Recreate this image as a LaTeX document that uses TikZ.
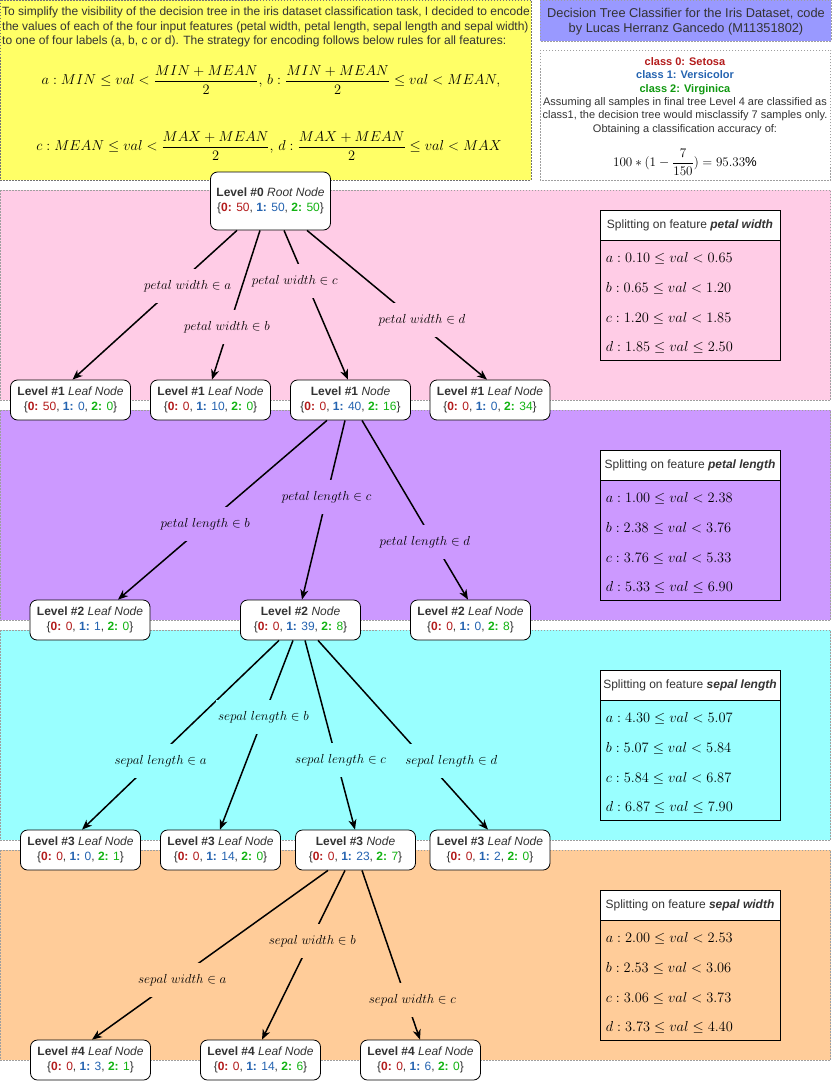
\RequirePackage{fix-cm}
\documentclass[tikz,border=0pt]{standalone}
\usepackage{amsmath}
\usepackage{fontspec}
\setmainfont{Liberation Sans}
\usetikzlibrary{arrows.meta}

\definecolor{yellowb}{HTML}{FFFF66}
\definecolor{pinkb}{HTML}{FFCCE6}
\definecolor{purpleb}{HTML}{CC99FF}
\definecolor{cyanb}{HTML}{99FFFF}
\definecolor{orangeb}{HTML}{FFCC99}
\definecolor{titleb}{HTML}{9999FF}
\definecolor{txt}{HTML}{333333}
\definecolor{czero}{HTML}{B31B1B}
\definecolor{cone}{HTML}{2463B0}
\definecolor{ctwo}{HTML}{12B312}

\newcommand{\dist}[3]{\{\textcolor{czero}{\textbf{0:} #1}, \textcolor{cone}{\textbf{1:} #2}, \textcolor{ctwo}{\textbf{2:} #3}\}}

\begin{document}
\begin{tikzpicture}[x=1pt, y=-1pt, >={Stealth[length=10pt,width=8pt,inset=3pt]},
    band/.style={draw=gray!75, dash pattern=on 1.5pt off 1.5pt, line width=0.6pt},
    tnode/.style={draw, line width=0.8pt, rounded corners=7pt, fill=white, minimum width=120pt,
      minimum height=40pt, inner sep=1pt, align=center, text=txt, font=\fontsize{12}{15}\selectfont},
    conn/.style={->, line width=1.5pt},
    lbl/.style={fill=#1, inner xsep=2pt, inner ysep=11pt, font=\fontsize{13.1}{15}\selectfont},
    thead/.style={draw, fill=white, line width=0.8pt, minimum width=180pt, minimum height=30pt,
      text=txt, font=\fontsize{12}{14}\selectfont},
    tbody/.style={draw, line width=0.8pt, minimum width=180pt, minimum height=120pt},
    tlines/.style={anchor=north west, inner sep=0pt, align=left, font=\fontsize{14.4}{29.7}\selectfont}]
  \useasboundingbox (0,0) rectangle (831,1081);

  % header boxes
  \filldraw[band, draw=gray!90!black, fill=yellowb] (0,0) rectangle (531,180);
  \node[anchor=north west, align=left, inner sep=0pt, text=txt, font=\fontsize{12}{14.5}\selectfont] (intro) at (2,7)
    {To simplify the visibility of the decision tree in the iris dataset classification task, I decided to encode\\
     the values of each of the four input features (petal width, petal length, sepal length and sepal width)\\
     to one of four labels (a, b, c or d). The strategy for encoding follows below rules for all features:};
  \node[font=\fontsize{14.4}{17}\selectfont] (eqa) at (271,80)
    {$a: MIN \leq val < \dfrac{MIN+MEAN}{2},\, b: \dfrac{MIN+MEAN}{2} \leq val < MEAN,$};
  \node[font=\fontsize{14.4}{17}\selectfont] (eqc) at (269,146)
    {$c: MEAN \leq val < \dfrac{MAX+MEAN}{2},\, d: \dfrac{MAX+MEAN}{2} \leq val < MAX$};

  \filldraw[band, fill=titleb] (540,0) rectangle (831,41);
  \node[align=center, text=txt, font=\fontsize{12.8}{15}\selectfont] (ttl) at (686,21.5)
    {Decision Tree Classifier for the Iris Dataset, code\\by Lucas Herranz Gancedo (M11351802)};

  \draw[band] (540,50) rectangle (830.5,180);
  \node[align=center, text=txt, font=\fontsize{11}{13.3}\selectfont] (info) at (685,96)
    {\textcolor{czero}{\textbf{class 0: Setosa}}\\
     \textcolor{cone}{\textbf{class 1: Versicolor}}\\
     \textcolor{ctwo!85!black}{\textbf{class 2: Virginica}}\\
     Assuming all samples in final tree Level 4 are classified as\\
     class1, the decision tree would misclassify 7 samples only.\\
     Obtaining a classification accuracy of:};
  \node[font=\fontsize{13.1}{14}\selectfont] (acc) at (685,162) {$100*(1-\dfrac{7}{150})=95.33\%$};

  % bands
  \filldraw[band, fill=pinkb] (0,190) rectangle (830.5,400);
  \filldraw[band, fill=purpleb] (0,410) rectangle (830.5,620);
  \filldraw[band, fill=cyanb] (0,630) rectangle (830.5,840);
  \filldraw[band, fill=orangeb] (0,850) rectangle (830.5,1060);

  % split tables
  \node[thead] (pwh) at (690,225) {Splitting on feature \textbf{\textit{petal width}}};
  \node[tbody] (pwb) at (690,300) {};
  \node[tlines] (pwt) at ([xshift=6pt,yshift=-13pt]pwb.north west)
    {$a: 0.10 \leq val < 0.65$\\$b: 0.65 \leq val < 1.20$\\$c: 1.20 \leq val < 1.85$\\$d: 1.85 \leq val \leq 2.50$};
  \node[thead] (plh) at (690,465) {Splitting on feature \textbf{\textit{petal length}}};
  \node[tbody] (plb) at (690,540) {};
  \node[tlines] (plt) at ([xshift=6pt,yshift=-13pt]plb.north west)
    {$a: 1.00 \leq val < 2.38$\\$b: 2.38 \leq val < 3.76$\\$c: 3.76 \leq val < 5.33$\\$d: 5.33 \leq val \leq 6.90$};
  \node[thead] (slh) at (690,685) {Splitting on feature \textbf{\textit{sepal length}}};
  \node[tbody] (slb) at (690,760) {};
  \node[tlines] (slt) at ([xshift=6pt,yshift=-13pt]slb.north west)
    {$a: 4.30 \leq val < 5.07$\\$b: 5.07 \leq val < 5.84$\\$c: 5.84 \leq val < 6.87$\\$d: 6.87 \leq val \leq 7.90$};
  \node[thead] (swh) at (690,905) {Splitting on feature \textbf{\textit{sepal width}}};
  \node[tbody] (swb) at (690,980) {};
  \node[tlines] (swt) at ([xshift=6pt,yshift=-13pt]swb.north west)
    {$a: 2.00 \leq val < 2.53$\\$b: 2.53 \leq val < 3.06$\\$c: 3.06 \leq val < 3.73$\\$d: 3.73 \leq val \leq 4.40$};

  % tree nodes
  \node[tnode, minimum height=58pt] (r) at (270.5,201) {\textbf{Level \#0} \textit{Root Node}\\\dist{50}{50}{50}};
  \node[tnode] (l1a) at (70.5,400) {\textbf{Level \#1} \textit{Leaf Node}\\\dist{50}{0}{0}};
  \node[tnode] (l1b) at (210.5,400) {\textbf{Level \#1} \textit{Leaf Node}\\\dist{0}{10}{0}};
  \node[tnode] (l1c) at (350.5,400) {\textbf{Level \#1} \textit{Node}\\\dist{0}{40}{16}};
  \node[tnode] (l1d) at (490,400) {\textbf{Level \#1} \textit{Leaf Node}\\\dist{0}{0}{34}};
  \node[tnode] (l2a) at (90,620) {\textbf{Level \#2} \textit{Leaf Node}\\\dist{0}{1}{0}};
  \node[tnode] (l2b) at (300.5,620) {\textbf{Level \#2} \textit{Node}\\\dist{0}{39}{8}};
  \node[tnode] (l2c) at (470.5,620) {\textbf{Level \#2} \textit{Leaf Node}\\\dist{0}{0}{8}};
  \node[tnode] (l3a) at (80.5,850) {\textbf{Level \#3} \textit{Leaf Node}\\\dist{0}{0}{1}};
  \node[tnode] (l3b) at (220.5,850) {\textbf{Level \#3} \textit{Leaf Node}\\\dist{0}{14}{0}};
  \node[tnode] (l3c) at (355.5,850) {\textbf{Level \#3} \textit{Node}\\\dist{0}{23}{7}};
  \node[tnode] (l3d) at (490,850) {\textbf{Level \#3} \textit{Leaf Node}\\\dist{0}{2}{0}};
  \node[tnode] (l4a) at (90.5,1060) {\textbf{Level \#4} \textit{Leaf Node}\\\dist{0}{3}{1}};
  \node[tnode] (l4b) at (260.5,1060) {\textbf{Level \#4} \textit{Leaf Node}\\\dist{0}{14}{6}};
  \node[tnode] (l4c) at (420.5,1060) {\textbf{Level \#4} \textit{Leaf Node}\\\dist{0}{6}{0}};

  % splits
  \draw[conn] ([xshift=-33.5pt]r.south) to node[lbl=pinkb, pos=.373, xshift=12pt] (pwa) {$petal\ width \in a$} ([xshift=2pt]l1a.north);
  \draw[conn] ([xshift=-10.5pt]r.south) to node[lbl=pinkb, pos=.647, xshift=-2pt] (pwbb) {$petal\ width \in b$} ([xshift=1.5pt]l1b.north);
  \draw[conn] ([xshift=13.5pt]r.south) to node[lbl=pinkb, pos=.34, xshift=-11pt] (pwc) {$petal\ width \in c$} ([xshift=-2.5pt]l1c.north);
  \draw[conn] ([xshift=36.5pt]r.south) to node[lbl=pinkb, pos=.6, xshift=7pt] (pwd) {$petal\ width \in d$} ([xshift=-3pt]l1d.north);

  \draw[conn] ([xshift=-23.5pt]l1c.south) to node[lbl=purpleb, pos=.578, xshift=-1pt] (plbb) {$petal\ length \in b$} ([xshift=28pt]l2a.north);
  \draw[conn] ([xshift=-5.5pt]l1c.south) to node[lbl=purpleb, pos=.428] (plc) {$petal\ length \in c$} ([xshift=1.5pt]l2b.north);
  \draw[conn] ([xshift=11.5pt]l1c.south) to node[lbl=purpleb, pos=.678, xshift=-9pt] (pld) {$petal\ length \in d$} ([xshift=-2.5pt]l2c.north);

  \draw[conn] ([xshift=-21.5pt]l2b.south) to node[lbl=cyanb, pos=.637, xshift=7pt] (sla) {$sepal\ length \in a$} ([xshift=1.5pt]l3a.north);
  \draw[conn] ([xshift=-7.5pt]l2b.south) to node[lbl=cyanb, pos=.405] (slbb) {$sepal\ length \in b$} ([xshift=-.5pt]l3b.north);
  \draw[conn] ([xshift=4.5pt]l2b.south) to node[lbl=cyanb, pos=.632, xshift=4pt] (slc) {$sepal\ length \in c$} ([xshift=-.5pt]l3c.north);
  \draw[conn] ([xshift=17.5pt]l2b.south) to node[lbl=cyanb, pos=.637, xshift=25pt] (sld) {$sepal\ length \in d$} ([xshift=-2pt]l3d.north);

  \draw[conn] ([xshift=-27.5pt]l3c.south) to node[lbl=orangeb, pos=.647, xshift=7pt] (swa) {$sepal\ width \in a$} ([xshift=1.5pt]l4a.north);
  \draw[conn] ([xshift=-10.5pt]l3c.south) to node[lbl=orangeb, pos=.418, xshift=2pt] (swbb) {$sepal\ width \in b$} ([xshift=1.5pt]l4b.north);
  \draw[conn] ([xshift=6.5pt]l3c.south) to node[lbl=orangeb, pos=.765, xshift=6pt] (swc) {$sepal\ width \in c$} ([xshift=-.5pt]l4c.north);
\end{tikzpicture}
\end{document}
